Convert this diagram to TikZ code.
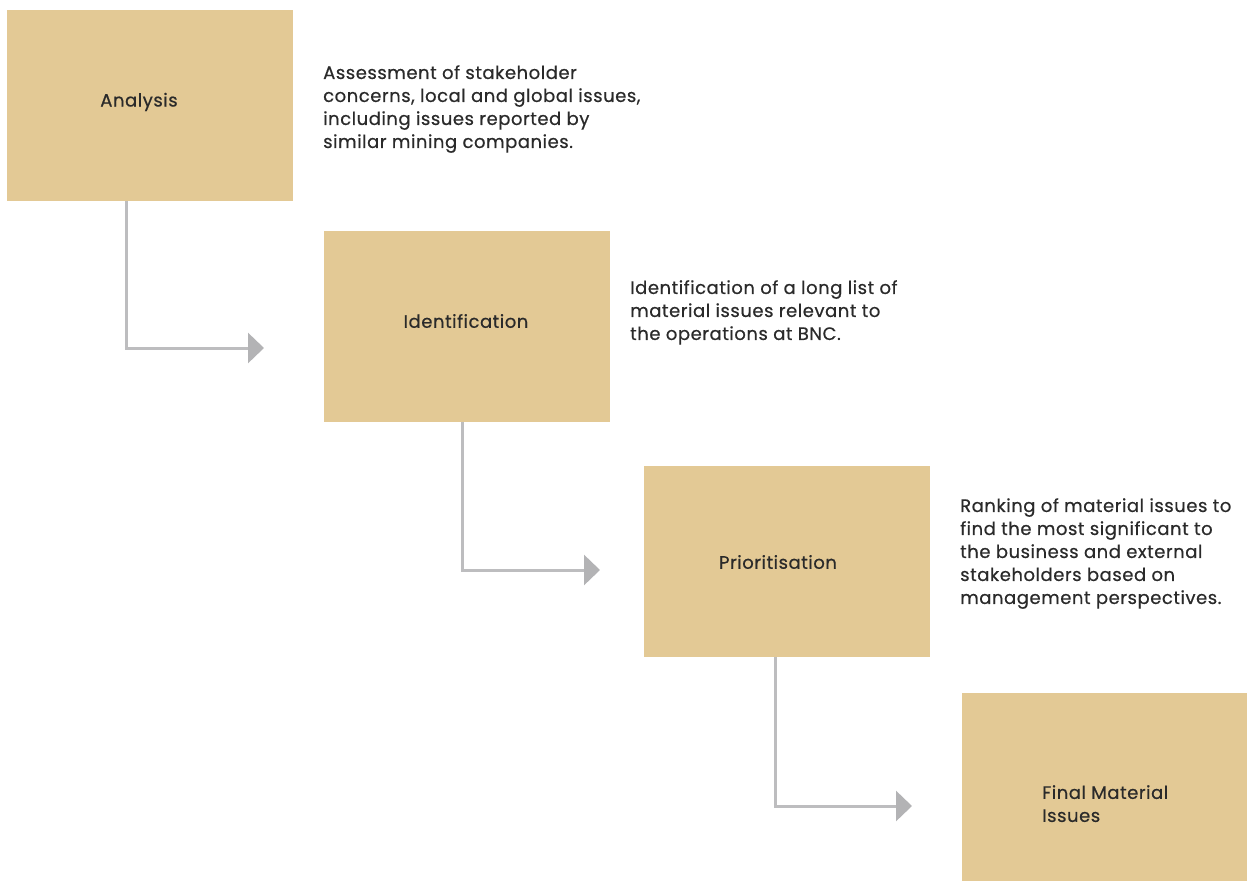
\documentclass[tikz,border=0pt]{standalone}
\usepackage{fontspec}
\setmainfont{Poppins}[FakeBold=0.6, LetterSpace=3]
\usetikzlibrary{arrows.meta}
\definecolor{boxfill}{HTML}{E3C995}
\definecolor{linkgray}{HTML}{BDBDBF}
\definecolor{tipgray}{HTML}{B3B3B5}
\definecolor{ink}{HTML}{2A2A2A}
\tikzset{
  stage/.style={fill=boxfill, draw=none, minimum width=286pt, minimum height=191pt, inner sep=0pt},
  stagelabel/.style={text=ink, font=\fontsize{18}{23}\selectfont, align=left, inner sep=0pt},
  note/.style={text=ink, font=\fontsize{18}{23}\selectfont, align=left, anchor=north west, inner sep=0pt},
  link/.style={draw=linkgray, line width=3pt, -{Triangle[length=16pt, width=30pt, color=tipgray]}}
}
\begin{document}
\begin{tikzpicture}[x=1pt, y=-1pt]
  \useasboundingbox (0,0) rectangle (1247,881);
  % stage boxes
  \node[stage, anchor=north west] (a) at (7,10) {};
  \node[stage, anchor=north west] (b) at (324,231) {};
  \node[stage, anchor=north west] (c) at (644,466) {};
  \node[stage, anchor=north west, minimum width=285pt, minimum height=188pt] (d) at (962,693) {};
  % box titles
  \node[stagelabel] (la) at (139,102) {Analysis};
  \node[stagelabel] (lb) at (466,321) {Identification};
  \node[stagelabel] (lc) at (778,562) {Prioritisation};
  \node[stagelabel, anchor=north west] (ld) at (1042,785) {Final Material\\Issues};
  % descriptions
  \node[note] (na) at (323,65) {Assessment of stakeholder\\concerns, local and global issues,\\including issues reported by\\similar mining companies.};
  \node[note] (nb) at (630,280) {Identification of a long list of\\material issues relevant to\\the operations at BNC.};
  \node[note] (nc) at (960,498) {Ranking of material issues to\\find the most significant to\\the business and external\\stakeholders based on\\management perspectives.};
  % arrow ends
  \coordinate (ea) at (264,348);
  \coordinate (eb) at (600,570);
  \coordinate (ec) at (912,806);
  % connectors
  \draw[link] (a.south -| 126,0) |- (ea);
  \draw[link] (b.south -| 462,0) |- (eb);
  \draw[link] (c.south -| 775,0) |- (ec);
\end{tikzpicture}
\end{document}
